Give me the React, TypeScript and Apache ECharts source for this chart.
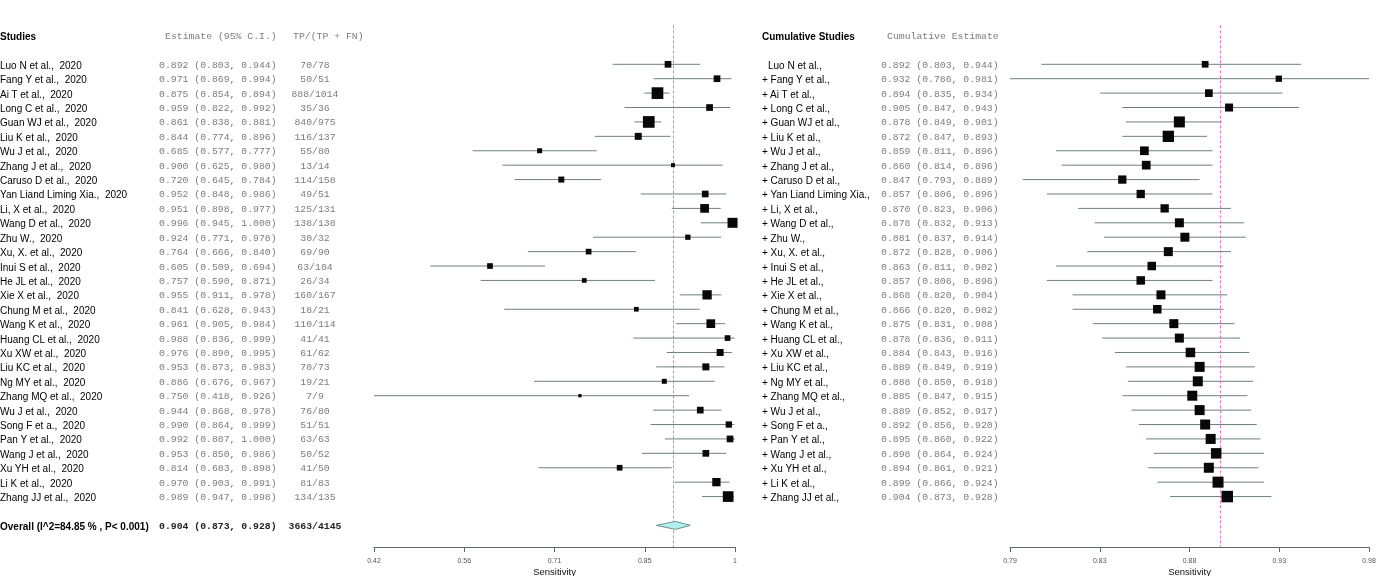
import React, { useEffect, useRef } from "react";
import * as echarts from "echarts";

const studyNames = [
  "Luo N et al.", "Fang Y et al.", "Ai T et al.", "Long C et al.", "Guan WJ et al.",
  "Liu K et al.", "Wu J et al.", "Zhang J et al.", "Caruso D et al.", "Yan Liand Liming Xia.",
  "Li, X et al.", "Wang D et al.", "Zhu W.", "Xu, X. et al.", "Inui S et al.",
  "He JL et al.", "Xie X et al.", "Chung M et al.", "Wang K et al.", "Huang CL et al.",
  "Xu XW et al.", "Liu KC et al.", "Ng MY et al.", "Zhang MQ et al.", "Wu J et al.",
  "Song F et a.", "Pan Y et al.", "Wang J et al.", "Xu YH et al.", "Li K et al.",
  "Zhang JJ et al.",
];
const studyYear = "2020";
const truePos = [70, 50, 888, 35, 840, 116, 55, 13, 114, 49, 125, 138, 30, 69, 63, 26, 160, 18, 110, 41, 61, 70, 19, 7, 76, 51, 63, 50, 41, 81, 134];
const totalPos = [78, 51, 1014, 36, 975, 137, 80, 14, 158, 51, 131, 138, 32, 90, 104, 34, 167, 21, 114, 41, 62, 73, 21, 9, 80, 51, 63, 52, 50, 83, 135];
const estimate = [0.892, 0.971, 0.875, 0.959, 0.861, 0.844, 0.685, 0.900, 0.720, 0.952, 0.951, 0.996, 0.924, 0.764, 0.605, 0.757, 0.955, 0.841, 0.961, 0.988, 0.976, 0.953, 0.886, 0.750, 0.944, 0.990, 0.992, 0.953, 0.814, 0.970, 0.989];
const lower = [0.803, 0.869, 0.854, 0.822, 0.838, 0.774, 0.577, 0.625, 0.645, 0.848, 0.898, 0.945, 0.771, 0.666, 0.509, 0.590, 0.911, 0.628, 0.905, 0.836, 0.890, 0.873, 0.676, 0.418, 0.868, 0.864, 0.887, 0.850, 0.683, 0.903, 0.947];
const upper = [0.944, 0.994, 0.894, 0.992, 0.881, 0.896, 0.777, 0.980, 0.784, 0.986, 0.977, 1.000, 0.978, 0.840, 0.694, 0.871, 0.978, 0.943, 0.984, 0.999, 0.995, 0.983, 0.967, 0.926, 0.978, 0.999, 1.000, 0.986, 0.898, 0.991, 0.998];
const studyWeight = [6.7, 6.7, 11.7, 6.7, 11.7, 7, 5, 4, 6, 6.7, 8.7, 10, 5.3, 5.7, 5.7, 4.7, 9.3, 4.7, 8.7, 5.7, 7, 7, 5, 3.3, 6.7, 6.3, 6.7, 6.7, 5.7, 8.3, 10.7];

const overallLabel = "Overall (I^2=84.85 % , P< 0.001)";
const overallEst = 0.904;
const overallLo = 0.873;
const overallHi = 0.928;
const overallTp = 3663;
const overallTotal = 4145;

const cumEstimate = [0.892, 0.932, 0.894, 0.905, 0.878, 0.872, 0.859, 0.860, 0.847, 0.857, 0.870, 0.878, 0.881, 0.872, 0.863, 0.857, 0.868, 0.866, 0.875, 0.878, 0.884, 0.889, 0.888, 0.885, 0.889, 0.892, 0.895, 0.898, 0.894, 0.899, 0.904];
const cumLower = [0.803, 0.786, 0.835, 0.847, 0.849, 0.847, 0.811, 0.814, 0.793, 0.806, 0.823, 0.832, 0.837, 0.828, 0.811, 0.806, 0.820, 0.820, 0.831, 0.836, 0.843, 0.849, 0.850, 0.847, 0.852, 0.856, 0.860, 0.864, 0.861, 0.866, 0.873];
const cumUpper = [0.944, 0.981, 0.934, 0.943, 0.901, 0.893, 0.896, 0.896, 0.889, 0.896, 0.906, 0.913, 0.914, 0.906, 0.902, 0.896, 0.904, 0.902, 0.908, 0.911, 0.916, 0.919, 0.918, 0.915, 0.917, 0.920, 0.922, 0.924, 0.921, 0.924, 0.928];
const cumWeight = [6.7, 6.3, 7.7, 8, 11, 11.3, 8.7, 8.7, 8.3, 8.3, 8.3, 9, 9, 9, 8.5, 8.5, 9, 8.5, 9, 9, 9.5, 10, 10, 10, 10, 10, 10, 10.5, 10, 11, 11.5];

const leftTicks = [0.418, 0.5635, 0.709, 0.8545, 1.0];
const leftTickLabels = ["0.42", "0.56", "0.71", "0.85", "1"];
const rightTicks = [0.786, 0.83475, 0.8835, 0.93225, 0.981];
const rightTickLabels = ["0.79", "0.83", "0.88", "0.93", "0.98"];
const axisTitle = "Sensitivity";

const SANS = "'Liberation Sans', Arial, sans-serif";
const MONO = "'Liberation Mono', 'Courier New', monospace";
const CI_COLOR = "#6f7f7f";
const AXIS_COLOR = "#5c6c6c";
const REF_COLOR = "#ee74c6";

const fmt = (v: number) => v.toFixed(3);
const ciText = (e: number, l: number, h: number) => `${fmt(e)} (${fmt(l)}, ${fmt(h)})`;

function makeAxis(gridIndex: number, ticks: number[], labels: string[]) {
  return {
    type: "value",
    gridIndex,
    min: ticks[0],
    max: ticks[ticks.length - 1],
    splitLine: { show: false },
    axisLine: { show: true, onZero: false, lineStyle: { color: AXIS_COLOR, width: 1 } },
    axisTick: { show: true, customValues: ticks, length: 5, lineStyle: { color: AXIS_COLOR } },
    axisLabel: {
      show: true,
      customValues: ticks,
      fontSize: 7,
      color: "#555",
      fontFamily: SANS,
      margin: 10,
      formatter: (v: number) => {
        const i = ticks.findIndex((t) => Math.abs(t - v) < 1e-6);
        return i >= 0 ? labels[i] : "";
      },
    },
    name: axisTitle,
    nameLocation: "middle",
    nameGap: 19,
    nameMoveOverlap: false,
    nameTextStyle: { fontSize: 9.5, color: "#111", fontFamily: SANS },
  };
}

function ciSeries(idx: number, lo: number[], hi: number[]) {
  return {
    type: "custom",
    xAxisIndex: idx,
    yAxisIndex: idx,
    z: 2,
    silent: true,
    data: lo.map((l, i) => [l, hi[i], i]),
    encode: { x: [0, 1], y: 2 },
    renderItem: (_p: any, api: any) => {
      const a = api.coord([api.value(0), api.value(2)]);
      const b = api.coord([api.value(1), api.value(2)]);
      return {
        type: "line",
        shape: { x1: a[0], y1: a[1], x2: b[0], y2: b[1] },
        style: { stroke: CI_COLOR, lineWidth: 1 },
      };
    },
  };
}

function squareSeries(idx: number, est: number[], w: number[], refValue: number) {
  return {
    type: "scatter",
    xAxisIndex: idx,
    yAxisIndex: idx,
    z: 3,
    silent: true,
    symbol: "rect",
    symbolSize: (v: number[]) => v[2],
    itemStyle: { color: "#080808", opacity: 1 },
    data: est.map((e, i) => [e, i, w[i]]),
    markLine: {
      silent: true,
      symbol: "none",
      z: 1,
      label: { show: false },
      lineStyle: { color: REF_COLOR, type: [3, 2], width: 1, opacity: 1 },
      data: [{ xAxis: refValue }],
    },
  };
}

export default function App() {
  const ref = useRef<HTMLDivElement>(null);
  useEffect(() => {
    document.body.style.margin = "0";
    const chart = echarts.init(ref.current!, undefined, { renderer: "svg" });
    const overallRow = studyNames.length + 1;
    const yAxisBase = { type: "value", min: -2.7, max: 33.5, inverse: true, show: false };
    const gridBase = { top: 25.4, height: 521.6, outerBoundsMode: "none", containLabel: false };
    chart.setOption({
      animation: false,
      grid: [
        { ...gridBase, left: 374, width: 361 },
        { ...gridBase, left: 1010, width: 359 },
      ],
      xAxis: [makeAxis(0, leftTicks, leftTickLabels), makeAxis(1, rightTicks, rightTickLabels)],
      yAxis: [{ ...yAxisBase, gridIndex: 0 }, { ...yAxisBase, gridIndex: 1 }],
      series: [
        ciSeries(0, lower, upper),
        squareSeries(0, estimate, studyWeight, overallEst),
        {
          type: "custom",
          xAxisIndex: 0,
          yAxisIndex: 0,
          z: 4,
          silent: true,
          data: [[overallLo, overallEst, overallHi, overallRow]],
          encode: { x: [0, 1, 2], y: 3 },
          renderItem: (_p: any, api: any) => {
            const y = api.value(3);
            const l = api.coord([api.value(0), y]);
            const c = api.coord([api.value(1), y]);
            const h = api.coord([api.value(2), y]);
            const hh = 4;
            return {
              type: "polygon",
              shape: { points: [[l[0], l[1]], [c[0], c[1] - hh], [h[0], h[1]], [c[0], c[1] + hh]] },
              style: { fill: "#b2f0f0", stroke: "#6f8f8f", lineWidth: 1 },
            };
          },
        },
        ciSeries(1, cumLower, cumUpper),
        squareSeries(1, cumEstimate, cumWeight, cumEstimate[cumEstimate.length - 1]),
      ],
    });

    const rowY = (r: number) => (chart.convertToPixel({ yAxisIndex: 0 } as any, r) as any) as number;
    const texts: any[] = [];
    const addText = (text: string, x: number, y: number, font: string, fill: string, align = "left") => {
      texts.push({
        type: "text",
        silent: true,
        style: {
          text, x, y: y + 1, font, fill,
          align, verticalAlign: "middle", textAlign: align, textVerticalAlign: "middle",
        },
      });
    };
    const nameFont = `10px ${SANS}`;
    const boldFont = `bold 10px ${SANS}`;
    const monoFont = `9.8px ${MONO}`;
    const monoBold = `bold 9.8px ${MONO}`;
    const grey = "#7c7c7c";

    const hy = rowY(-2);
    addText("Studies", 0, hy, boldFont, "#000");
    addText("Estimate (95% C.I.)", 165, hy, monoFont, grey);
    addText("TP/(TP + FN)", 293, hy, monoFont, grey);
    addText("Cumulative Studies", 762, hy, boldFont, "#000");
    addText("Cumulative Estimate", 887, hy, monoFont, grey);

    studyNames.forEach((n, i) => {
      const y = rowY(i);
      addText(`${n},  ${studyYear}`, 0, y, nameFont, "#000");
      addText(ciText(estimate[i], lower[i], upper[i]), 159, y, monoFont, grey);
      addText(`${truePos[i]}/${totalPos[i]}`, 315, y, monoFont, grey, "center");
      addText(i === 0 ? `${n},` : `+ ${n},`, i === 0 ? 768 : 762, y, nameFont, "#000");
      addText(ciText(cumEstimate[i], cumLower[i], cumUpper[i]), 881, y, monoFont, grey);
    });
    const oy = rowY(overallRow);
    addText(overallLabel, 0, oy, boldFont, "#000");
    addText(ciText(overallEst, overallLo, overallHi), 159, oy, monoBold, "#222");
    addText(`${overallTp}/${overallTotal}`, 315, oy, monoBold, "#222", "center");

    chart.setOption({ graphic: texts });
    return () => chart.dispose();
  }, []);
  return <div ref={ref} style={{ position: "fixed", left: 0, top: 0, width: 1400, height: 576 }} />;
}
